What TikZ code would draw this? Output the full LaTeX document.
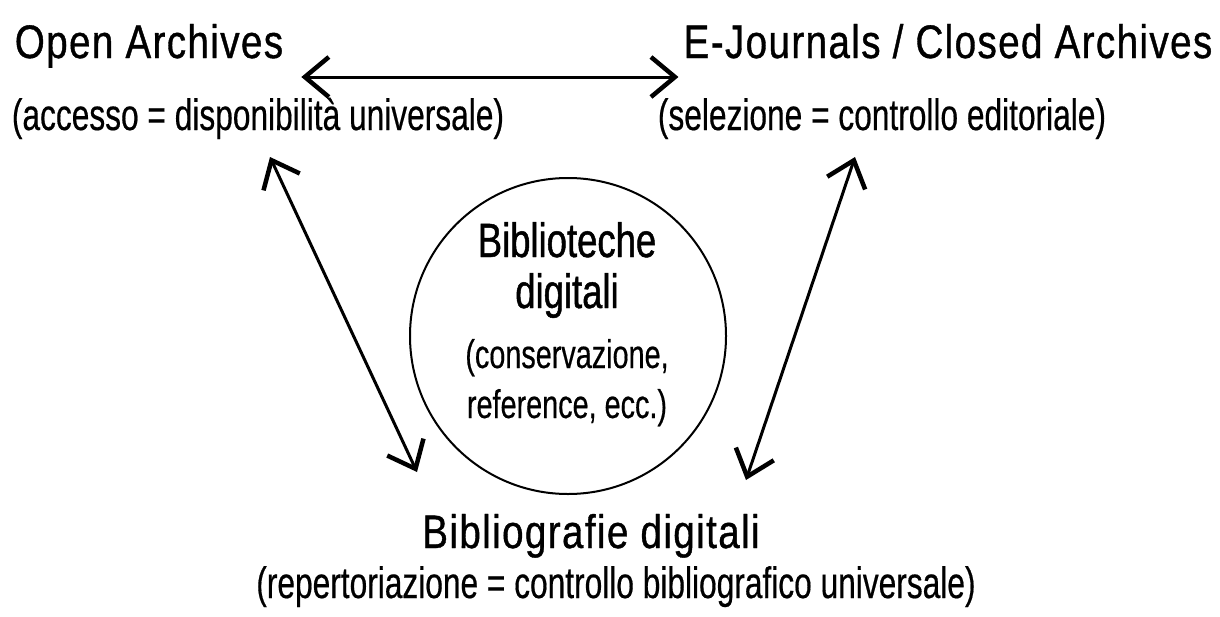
\documentclass[tikz,border=0pt]{standalone}
\usepackage{fontspec}
\setmainfont{Liberation Sans}
\newfontfamily\titlefont{Liberation Sans}[FakeStretch=0.82,LetterSpace=3,FakeBold=0.8]
\newfontfamily\subfont{Liberation Sans}[FakeStretch=0.72,FakeBold=0.4]
\newfontfamily\libfont{Liberation Sans}[FakeStretch=0.76,FakeBold=1]
\usetikzlibrary{arrows.meta}

\begin{document}
\begin{tikzpicture}[x=1pt, y=-1pt,
    title/.style = {anchor=base, inner sep=0pt, font=\titlefont\fontsize{47}{56}\selectfont},
    subtitle/.style = {anchor=base, inner sep=0pt, font=\subfont\fontsize{44}{52}\selectfont},
    libtitle/.style = {anchor=base, inner sep=0pt, font=\libfont\fontsize{48}{56}\selectfont},
    libtext/.style = {anchor=base, inner sep=0pt, font=\subfont\fontsize{40}{48}\selectfont},
    link/.style = {line width=3pt,
        {Straight Barb[length=24pt,width=40pt,line width=4.5pt]}-{Straight Barb[length=24pt,width=40pt,line width=4.5pt]}}]

    \useasboundingbox (0,0) rectangle (1220,616);

    % the three corners
    \node[title] (oa) at (149,58) {Open Archives};
    \node[subtitle] (oasub) at (258,130) {(accesso = disponibilità universale)};

    \node[title] (ej) at (948,58) {E-Journals / Closed Archives};
    \node[subtitle] (ejsub) at (882,130) {(selezione = controllo editoriale)};

    \node[title] (bd) at (591,548) {Bibliografie digitali};
    \node[subtitle] (bdsub) at (616,598) {(repertoriazione = controllo bibliografico universale)};

    % digital libraries in the middle
    \node[draw, circle, line width=2pt, minimum size=316pt, inner sep=0pt] (libs) at (568,336) {};
    \node[libtitle] (lib1) at (567,257) {Biblioteche};
    \node[libtitle] (lib2) at (567,308) {digitali};
    \node[libtext] (lib3) at (567,368) {(conservazione,};
    \node[libtext] (lib4) at (567,418) {reference, ecc.)};

    % links
    \draw[link] ([shift={(18,19)}]oa.base east) -- ([shift={(-5,19)}]ej.base west);
    \draw[link] ([shift={(12,27)}]oasub.base) -- ([shift={(-174,-76)}]bd.base);
    \draw[link] ([shift={(-27,27)}]ejsub.base) -- ([shift={(155,-68)}]bd.base);

\end{tikzpicture}
\end{document}
